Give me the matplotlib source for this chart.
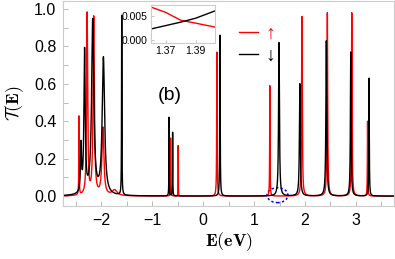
import numpy as np
import matplotlib
matplotlib.use("Agg")
import matplotlib.pyplot as plt
from matplotlib.lines import Line2D
from matplotlib.patches import Ellipse

plt.rcParams['font.family'] = ['Liberation Sans', 'DejaVu Sans']
plt.rcParams['mathtext.fontset'] = 'cm'

# resonance peaks: position (eV), height, half width
E_up = [-2.44, -2.28, -2.15, -1.97, -1.74, -0.64, -0.49, 0.27, 1.31, 1.94, 2.44, 2.92, 3.23]
h_up = [0.42, 0.97, 0.95, 0.36, 0.03, 0.31, 0.27, 0.77, 0.59, 0.96, 0.98, 0.98, 0.40]
g_up = [0.004, 0.012, 0.015, 0.022, 0.06, 0.003, 0.002, 0.005, 0.004, 0.008, 0.008, 0.007, 0.004]

E_dn = [-2.40, -2.33, -2.17, -1.96, -1.60, -0.67, -0.60, 0.33, 1.49, 1.90, 2.42, 2.90, 3.26]
h_dn = [0.25, 0.76, 0.93, 0.73, 0.96, 0.42, 0.34, 0.86, 0.82, 0.60, 0.83, 0.77, 0.63]
g_dn = [0.012, 0.015, 0.026, 0.028, 0.004, 0.003, 0.003, 0.005, 0.010, 0.010, 0.010, 0.008, 0.005]

# zoomed values near the crossing (inset)
E_ins = [1.360, 1.370, 1.380, 1.390, 1.403]
T_ins_up = [0.0068, 0.0057, 0.0041, 0.0035, 0.0027]
T_ins_dn = [0.0023, 0.0030, 0.0037, 0.0045, 0.0060]


def transmision(E, pos, alt, anc):
    T = np.zeros_like(E)
    for e0, h, g in zip(pos, alt, anc):
        T += h * g**2 / ((E - e0)**2 + g**2)
    return T


E = np.arange(-2.75, 3.75, 0.0004)
T_up = transmision(E, E_up, h_up, g_up)
T_dn = transmision(E, E_dn, h_dn, g_dn)

fig = plt.figure(figsize=(3.95, 2.59), dpi=100)
ax = fig.add_axes([0.160, 0.2046, 0.8375, 0.7914])

ax.plot(E, T_up, color="red", lw=1.0)
ax.plot(E, T_dn, color="black", lw=1.0)

ax.set_xlim(-2.75, 3.75)
ax.set_ylim(-0.053, 1.043)
ax.set_xticks([-2, -1, 0, 1, 2, 3])
ax.set_xticks(np.arange(-2.5, 3.6, 0.5), minor=True)
ax.set_yticks([0.0, 0.2, 0.4, 0.6, 0.8, 1.0])
ax.set_yticks(np.arange(0.1, 1.0, 0.2), minor=True)
ax.set_yticklabels(["0.0", "0.2", "0.4", "0.6", "0.8", "1.0"])
ax.tick_params(which="both", direction="in", color="#bbbbbb", length=3.5, width=0.7,
               labelsize=11.5, pad=5)
for s in ax.spines.values():
    s.set_color("#cccccc")
    s.set_linewidth(0.8)

ax.set_xlabel(r"$\mathbf{E}(\mathbf{eV})$", fontsize=13, labelpad=2)
ax.set_ylabel(r"$\mathcal{T}(\mathbf{E})$", fontsize=13, labelpad=6)

ax.text(-0.65, 0.54, "(b)", fontsize=14, ha="center", va="center")

ax.add_patch(Ellipse((1.46, 0.005), 0.41, 0.08, fill=False, ec="blue",
                     ls=(0, (1.5, 1.5)), lw=1.1))

handles = [Line2D([], [], color="red", lw=1.0), Line2D([], [], color="black", lw=1.0)]
ax.legend(handles, ["↑", "↓"], loc="upper left", bbox_to_anchor=(0.53, 0.88),
          frameon=False, prop={"size": 14, "weight": "bold"}, handlelength=1.0,
          handletextpad=0.4, labelspacing=0.2, borderpad=0, borderaxespad=0,
          labelcolor=["red", "black"])

# inset
axi = fig.add_axes([0.3815, 0.833, 0.1628, 0.1477])
axi.plot(E_ins, T_ins_up, color="red", lw=1.0)
axi.plot(E_ins, T_ins_dn, color="black", lw=1.0)
axi.set_xlim(1.36, 1.403)
axi.set_ylim(-0.0006, 0.0072)
axi.set_xticks([1.37, 1.39])
axi.set_xticklabels(["1.37", "1.39"])
axi.set_yticks([0.0, 0.005])
axi.set_yticklabels(["0.000", "0.005"])
axi.tick_params(direction="in", color="#bbbbbb", length=2, width=0.6, labelsize=7.5, pad=2)
for s in axi.spines.values():
    s.set_color("#cccccc")
    s.set_linewidth(0.8)

fig.savefig("out.png", dpi=100)
